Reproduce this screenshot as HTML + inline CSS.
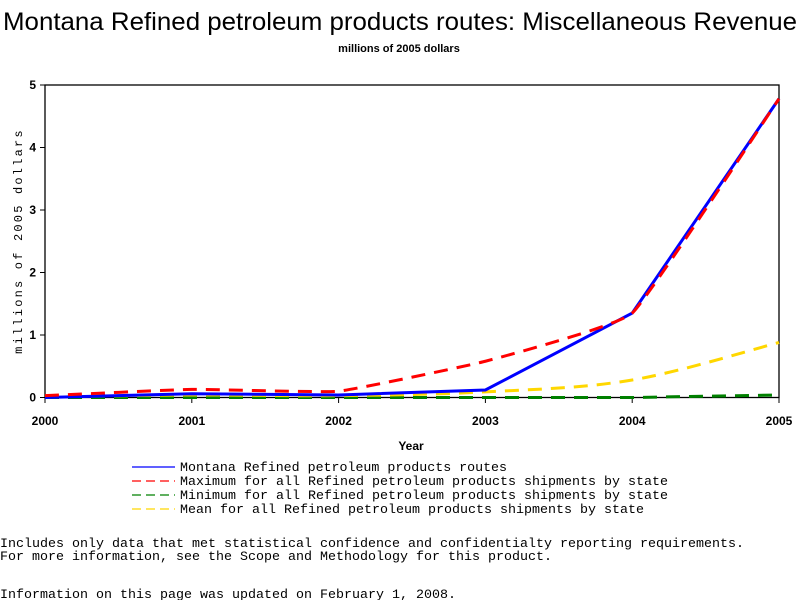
<!DOCTYPE html>
<html><head><meta charset="utf-8"><style>
body{margin:0;background:#fff;width:800px;height:600px;overflow:hidden}
svg{display:block}
.mono{font-family:"Liberation Mono",monospace;font-size:13px}
</style></head><body>
<svg width="800" height="600">
<text x="400" y="30" text-anchor="middle" font-family="Liberation Sans,sans-serif" font-size="25" textLength="794" lengthAdjust="spacingAndGlyphs">Montana Refined petroleum products routes: Miscellaneous Revenue</text>
<text x="399" y="52" text-anchor="middle" font-family="Liberation Sans,sans-serif" font-size="11" font-weight="bold">millions of 2005 dollars</text>
<rect x="45" y="85" width="734" height="312.5" fill="none" stroke="#000" stroke-width="1.3"/>
<g id="axes"></g>
<g id="series"></g>
<text transform="translate(22,241) rotate(-90)" text-anchor="middle" font-family="Liberation Mono,monospace" font-size="12" letter-spacing="2.2">millions of 2005 dollars</text>
<text x="411" y="450" text-anchor="middle" font-family="Liberation Sans,sans-serif" font-size="12" font-weight="bold">Year</text>
<g id="legend"></g>
<text x="0" y="547" class="mono" textLength="744" lengthAdjust="spacingAndGlyphs">Includes only data that met statistical confidence and confidentialty reporting requirements.</text>
<text x="0" y="560" class="mono" textLength="552" lengthAdjust="spacingAndGlyphs">For more information, see the Scope and Methodology for this product.</text>
<text x="0" y="598" class="mono" textLength="456" lengthAdjust="spacingAndGlyphs">Information on this page was updated on February 1, 2008.</text>
</svg>
<script>
const years=[2000,2001,2002,2003,2004,2005];
const yTicks=[0,1,2,3,4,5];
const montana=[0.0,0.06,0.04,0.12,1.35,4.78];
const maxState=[0.03,0.13,0.10,0.58,1.35,4.78];
const minState=[0,0,0,0,0,0.04];
const meanState=[0.01,0.04,0.03,0.09,0.28,0.88];
const legendLabels=["Montana Refined petroleum products routes","Maximum for all Refined petroleum products shipments by state","Minimum for all Refined petroleum products shipments by state","Mean for all Refined petroleum products shipments by state"];
const legendWidths=[327,488,488,464];
const NS="http://www.w3.org/2000/svg";
const X=v=>45+(v-2000)*(734/5);
const Y=v=>397.5-v*62.5;
function mk(tag,attrs,parent){const e=document.createElementNS(NS,tag);for(const k in attrs)e.setAttribute(k,attrs[k]);parent.appendChild(e);return e;}
const ax=document.getElementById('axes');
yTicks.forEach(t=>{
 const l=mk('line',{x1:40,x2:45,y1:Y(t),y2:Y(t),stroke:'#000'},ax);
 
 
 const tx=mk('text',{x:36,y:Y(t)+4,'text-anchor':'end','font-family':'Liberation Sans,sans-serif','font-size':12,'font-weight':'bold'},ax);
 tx.textContent=t;
 
 
});
years.forEach(t=>{
 const l=mk('line',{x1:X(t),x2:X(t),y1:397.5,y2:403,stroke:'#000'},ax);
 
 
 const tx=mk('text',{x:X(t),y:425,'text-anchor':'middle','font-family':'Liberation Sans,sans-serif','font-size':12,'font-weight':'bold'},ax);
 tx.textContent=t;
 
 
});
function smooth(vals,k){
 const p=vals.map((v,i)=>[X(years[i]),Y(v)]);
 let d=`M${p[0][0]},${p[0][1]}`;
 for(let i=0;i<p.length-1;i++){
  const p0=p[Math.max(0,i-1)],p1=p[i],p2=p[i+1],p3=p[Math.min(p.length-1,i+2)];
  const c1=[p1[0]+(p2[0]-p0[0])*k,p1[1]+(p2[1]-p0[1])*k];
  const c2=[p2[0]-(p3[0]-p1[0])*k,p2[1]-(p3[1]-p1[1])*k];
  d+=` C${c1[0]},${c1[1]} ${c2[0]},${c2[1]} ${p2[0]},${p2[1]}`;
 }
 return d;
}
function straight(vals){return 'M'+vals.map((v,i)=>X(years[i])+','+Y(v)).join(' L');}
const sg=document.getElementById('series');
const g1=mk('path',{d:straight(minState),fill:'none',stroke:'#008000','stroke-width':3,'stroke-dasharray':'14,9'},sg);


const g2=mk('path',{d:smooth(meanState,1/6),fill:'none',stroke:'#ffd700','stroke-width':3,'stroke-dasharray':'14,9'},sg);


const g3=mk('path',{d:straight(montana),fill:'none',stroke:'#0000ff','stroke-width':3},sg);


const g4=mk('path',{d:smooth(maxState,1/20),fill:'none',stroke:'#ff0000','stroke-width':3,'stroke-dasharray':'14,9'},sg);


const lg=document.getElementById('legend');
const cols=['#0000ff','#ff0000','#008000','#ffd700'];
const dashes=['none','9,5','9,5','9,5'];
legendLabels.forEach((lab,i)=>{
 const y=467+i*14;
 const l=mk('line',{x1:132,x2:175,y1:y,y2:y,stroke:cols[i],'stroke-width':1.2,'stroke-dasharray':dashes[i]},lg);
 
 
 const t=mk('text',{x:180,y:y+4,'font-family':'Liberation Mono,monospace','font-size':13,textLength:legendWidths[i],lengthAdjust:'spacingAndGlyphs'},lg);
 t.textContent=lab;
 
 
});
</script>
</body></html>
